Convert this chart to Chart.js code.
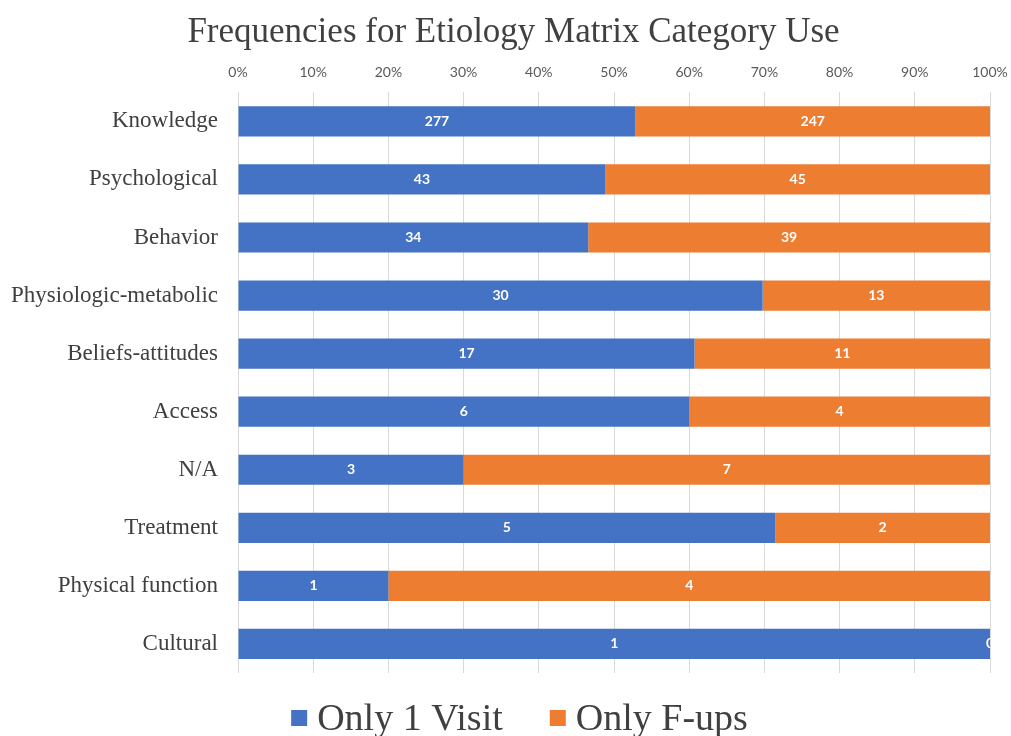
<!DOCTYPE html>
<html>
<head>
<meta charset="utf-8">
<title>Frequencies for Etiology Matrix Category Use</title>
<script src="https://cdn.jsdelivr.net/npm/chart.js@4/dist/chart.umd.min.js"></script>
<style>
  html, body { margin: 0; padding: 0; background: #ffffff; }
  #wrap { width: 1011px; height: 736px; }
</style>
</head>
<body>
<div id="wrap"><canvas id="chart" width="1011" height="736"></canvas></div>
<script>
// Etiology matrix categories and how often each was used
const categories = [
  'Knowledge', 'Psychological', 'Behavior', 'Physiologic-metabolic',
  'Beliefs-attitudes', 'Access', 'N/A', 'Treatment', 'Physical function', 'Cultural'
];
const onlyOneVisit = [277, 43, 34, 30, 17, 6, 3, 5, 1, 1];
const onlyFollowUps = [247, 45, 39, 13, 11, 4, 7, 2, 4, 0];
const seriesNames = ['Only 1 Visit', 'Only F-ups'];
const seriesColors = ['#4472C4', '#ED7D31'];
const percentTicks = [0, 10, 20, 30, 40, 50, 60, 70, 80, 90, 100];

// 100% stacking: each bar segment is its share of the category total
const totals = categories.map((_, i) => onlyOneVisit[i] + onlyFollowUps[i]);
const share = (arr) => arr.map((v, i) => totals[i] ? v / totals[i] * 100 : 0);

const SERIF = '"Liberation Serif", "Times New Roman", serif';
const SANS = 'Lato, "Liberation Sans", sans-serif';

// Centre the title on the whole canvas rather than the padded layout box
const centreTitle = {
  id: 'centreTitle',
  afterLayout(chart) {
    const t = chart.titleBlock;
    if (!t) return;
    const shift = chart.width / 2 + 8 - (t.left + t.right) / 2;
    t.left += shift;
    t.right += shift;
  }
};

// Writes the raw count in the middle of every bar segment
const countLabels = {
  id: 'countLabels',
  afterDatasetsDraw(chart) {
    const ctx = chart.ctx;
    const area = chart.chartArea;
    ctx.save();
    ctx.beginPath();
    ctx.rect(area.left, area.top, area.right - area.left, area.bottom - area.top);
    ctx.clip();
    ctx.fillStyle = '#ffffff';
    ctx.font = 'bold 14px ' + SANS;
    ctx.textAlign = 'center';
    ctx.textBaseline = 'middle';
    chart.data.datasets.forEach((ds, di) => {
      const meta = chart.getDatasetMeta(di);
      meta.data.forEach((bar, i) => {
        const p = bar.getCenterPoint();
        ctx.fillText(String(ds.counts[i]), p.x, p.y);
      });
    });
    ctx.restore();
  }
};

// Compact legend under the plot: square swatch, tight gap, large serif text
const bottomLegend = {
  id: 'bottomLegend',
  afterDraw(chart) {
    const ctx = chart.ctx;
    const box = 16, gap = 10, between = 47;
    ctx.save();
    ctx.font = '38px ' + SERIF;
    const widths = chart.data.datasets.map(ds => ctx.measureText(ds.label).width);
    const total = widths.reduce((s, w) => s + box + gap + w, 0) + between * (widths.length - 1);
    let x = chart.width / 2 + 14 - total / 2;
    const cy = 719;
    ctx.textBaseline = 'middle';
    ctx.textAlign = 'left';
    chart.data.datasets.forEach((ds, i) => {
      ctx.fillStyle = ds.backgroundColor;
      ctx.fillRect(x, cy - box / 2 - 1, box, box);
      x += box + gap;
      ctx.fillStyle = '#404040';
      ctx.fillText(ds.label, x, cy + 1);
      x += widths[i] + between;
    });
    ctx.restore();
  }
};

new Chart(document.getElementById('chart'), {
  type: 'bar',
  data: {
    labels: categories,
    datasets: [
      {
        label: seriesNames[0],
        data: share(onlyOneVisit),
        counts: onlyOneVisit,
        backgroundColor: seriesColors[0],
        barPercentage: 0.52,
        categoryPercentage: 1.0
      },
      {
        label: seriesNames[1],
        data: share(onlyFollowUps),
        counts: onlyFollowUps,
        backgroundColor: seriesColors[1],
        barPercentage: 0.52,
        categoryPercentage: 1.0
      }
    ]
  },
  options: {
    indexAxis: 'y',
    responsive: false,
    animation: false,
    layout: { padding: { left: 10, right: 21, top: 0, bottom: 63 } },
    scales: {
      x: {
        position: 'top',
        stacked: true,
        min: 0,
        max: 100,
        afterBuildTicks(axis) {
          axis.ticks = percentTicks.map(v => ({ value: v }));
        },
        afterFit(axis) {
          // edge tick labels may spill into the outer margin
          axis.paddingLeft = 0;
          axis.paddingRight = 0;
        },
        ticks: {
          callback: v => v + '%',
          color: '#595959',
          font: { family: SANS, size: 14 },
          padding: 11,
          maxRotation: 0
        },
        grid: {
          color: '#d9d9d9',
          lineWidth: 1,
          drawTicks: false
        },
        border: { display: false }
      },
      y: {
        stacked: true,
        afterFit(axis) { axis.width = 228; },
        ticks: {
          color: '#404040',
          font: { family: SERIF, size: 23 },
          padding: 20
        },
        grid: { display: false, drawTicks: false },
        border: { display: false }
      }
    },
    plugins: {
      title: {
        display: true,
        text: 'Frequencies for Etiology Matrix Category Use',
        color: '#404040',
        font: { family: SERIF, size: 35, weight: 'normal', lineHeight: 1.1 },
        padding: { top: 14, bottom: 1 }
      },
      legend: { display: false },
      tooltip: { enabled: false }
    }
  },
  plugins: [centreTitle, countLabels, bottomLegend]
});
</script>
</body>
</html>
